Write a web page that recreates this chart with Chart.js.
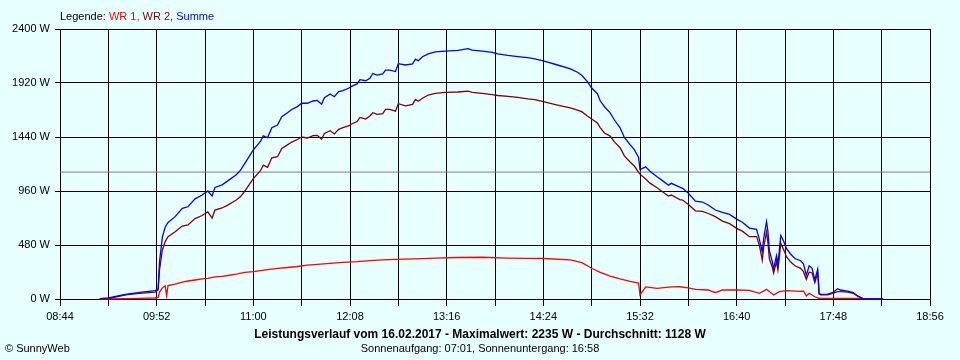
<!DOCTYPE html>
<html>
<head>
<meta charset="utf-8">
<script src="https://cdn.jsdelivr.net/npm/chart.js@4"></script>
<style>
  html, body { margin: 0; padding: 0; background: #E8FFFF; }
  #wrap { position: relative; width: 960px; height: 360px; background: #E8FFFF; overflow: hidden;
          font-family: 'Liberation Sans', Arial, sans-serif; font-size: 11px; color: #000; }
  canvas { position: absolute; left: 0; top: 0; }
  .txt { position: absolute; white-space: nowrap; line-height: 13px; }
  #legend { left: 60px; top: 10px; }
  #title { left: 0; width: 960px; text-align: center; top: 328px; font-weight: bold; font-size: 12px; }
  #subtitle { left: 0; width: 960px; text-align: center; top: 342px; }
  #copy { left: 5px; top: 342px; }
</style>
</head>
<body>
<div id="wrap">
  <canvas id="c" width="960" height="360"></canvas>
  <div class="txt" id="legend">Legende: <span style="color:#FF0000">WR 1,</span> <span style="color:#800000">WR 2,</span> <span style="color:#0000FF">Summe</span></div>
  <div class="txt" id="title">Leistungsverlauf vom 16.02.2017 - Maximalwert: 2235 W - Durchschnitt: 1128 W</div>
  <div class="txt" id="subtitle">Sonnenaufgang: 07:01, Sonnenuntergang: 16:58</div>
  <div class="txt" id="copy">© SunnyWeb</div>
</div>
<script>
// ---- data ----
const timesSum = ["09:12","09:18","09:30","09:40","09:51","09:53","09:54","09:56","09:58","10:00","10:05","10:10","10:14","10:19","10:24","10:28","10:31","10:33","10:38","10:42","10:48","10:51","10:54","11:00","11:05","11:07","11:10","11:13","11:17","11:20","11:24","11:27","11:31","11:34","11:38","11:42","11:45","11:48","11:50","11:54","11:57","12:00","12:03","12:07","12:09","12:13","12:15","12:19","12:22","12:24","12:27","12:31","12:33","12:36","12:40","12:42","12:47","12:52","12:54","12:56","12:59","13:03","13:08","13:15","13:24","13:31","13:34","13:41","13:48","13:52","13:59","14:06","14:13","14:18","14:24","14:34","14:43","14:48","14:51","14:55","14:58","15:02","15:04","15:07","15:11","15:14","15:18","15:21","15:25","15:28","15:31","15:32","15:36","15:39","15:44","15:48","15:52","15:54","16:00","16:02","16:06","16:11","16:16","16:20","16:25","16:30","16:35","16:40","16:44","16:49","16:54","16:56","16:58","16:59","17:01","17:02","17:03","17:05","17:06","17:08","17:09","17:10","17:11","17:13","17:15","17:18","17:21","17:25","17:27","17:29","17:31","17:33","17:35","17:37","17:38","17:39","17:44","17:48","17:51","17:53","17:58","18:02","18:05","18:09","18:14","18:23"];
const summe = [4,9,40,58,74,89,330,550,640,680,732,805,820,890,924,960,915,992,1015,1050,1105,1145,1205,1325,1400,1450,1435,1522,1547,1620,1655,1685,1710,1740,1740,1760,1765,1732,1790,1822,1798,1843,1852,1873,1890,1912,1950,1940,1962,2005,1990,2000,2035,2035,2022,2092,2080,2090,2132,2118,2154,2178,2196,2204,2210,2225,2213,2204,2193,2178,2165,2155,2145,2134,2116,2080,2046,2016,1988,1932,1875,1825,1762,1709,1655,1591,1522,1436,1372,1328,1258,1150,1175,1136,1087,1050,1012,1028,994,984,940,870,862,836,791,770,752,710,682,630,620,528,420,540,687,600,430,335,270,385,305,430,565,515,450,398,360,340,312,210,295,275,170,265,52,42,44,60,92,80,71,56,27,0,0,0];
const wr2 = [3,4,36,50,62,80,258,436,510,554,598,649,658,715,742,775,720,791,809,835,880,910,960,1070,1140,1190,1170,1255,1265,1338,1370,1395,1418,1440,1431,1452,1455,1420,1472,1496,1467,1508,1524,1538,1556,1578,1614,1600,1627,1656,1642,1648,1686,1686,1670,1736,1716,1730,1774,1758,1784,1813,1828,1836,1840,1848,1837,1827,1816,1809,1801,1792,1778,1772,1754,1724,1699,1678,1665,1627,1600,1565,1524,1476,1448,1396,1345,1272,1218,1182,1125,1110,1066,1030,989,952,915,924,884,880,840,784,778,760,732,692,670,628,603,554,555,477,345,460,596,500,360,285,232,333,258,366,495,440,376,328,295,273,243,175,240,232,145,235,44,36,36,53,66,65,62,51,27,4,0,0];
const timesWR1 = ["09:12","09:18","09:30","09:40","09:51","09:53","09:54","09:56","09:58","09:59","10:00","10:05","10:10","10:14","10:19","10:24","10:28","10:33","10:38","10:42","10:48","10:54","11:00","11:05","11:10","11:17","11:24","11:31","11:38","11:45","11:54","12:03","12:13","12:22","12:31","12:40","12:54","13:08","13:24","13:41","13:59","14:13","14:24","14:43","14:51","14:58","15:04","15:11","15:18","15:25","15:31","15:32","15:36","15:44","15:54","16:00","16:06","16:11","16:20","16:25","16:30","16:40","16:49","16:56","17:01","17:06","17:10","17:15","17:25","17:27","17:29","17:31","17:35","17:38","17:44","18:05","18:09","18:14"];
const wr1 = [0,0,4,6,9,13,62,98,116,30,120,133,151,160,169,178,184,196,202,209,222,237,244,253,262,273,280,289,302,308,316,326,333,342,347,353,357,364,369,371,364,362,360,347,323,273,236,204,178,156,142,36,107,95,107,109,98,86,80,56,80,80,76,51,86,36,65,74,67,71,27,51,20,6,6,6,0,0];
const average = 1128;
const xStart = "08:44", xEnd = "18:56";
const yTicks = [0, 480, 960, 1440, 1920, 2400];
const xStepMin = 34;   // gridline every 34 minutes, label every 68

// ---- helpers ----
const toMin = s => { const [h, m] = s.split(':').map(Number); return h * 60 + m; };
const toStr = v => String(Math.floor(v / 60)).padStart(2, '0') + ':' + String(Math.round(v % 60)).padStart(2, '0');
const pts = (ts, vs) => ts.map((t, i) => ({ x: toMin(t), y: vs[i] }));
const xMin = toMin(xStart), xMax = toMin(xEnd);

const lineDs = (label, ts, vs, color) => ({
  label, data: pts(ts, vs), borderColor: color, backgroundColor: color,
  borderWidth: 1.3, pointRadius: 0, tension: 0, fill: false, clip: 4
});

new Chart(document.getElementById('c').getContext('2d'), {
  type: 'line',
  data: {
    datasets: [
      lineDs('Summe', timesSum, summe, '#0000FF'),
      lineDs('WR 2', timesSum, wr2, '#800000'),
      lineDs('WR 1', timesWR1, wr1, '#FF0000'),
      { label: 'Durchschnitt', data: [{ x: xMin, y: average }, { x: xMax, y: average }],
        borderColor: '#808080', borderWidth: 1, pointRadius: 0, fill: false }
    ]
  },
  options: {
    responsive: false, animation: false, devicePixelRatio: 1,
    layout: { padding: { top: 29, right: 30, left: 0, bottom: 0 } },
    font: { family: "'Liberation Sans', Arial, sans-serif", size: 11 },
    plugins: { legend: { display: false }, tooltip: { enabled: false }, title: { display: false } },
    scales: {
      x: {
        type: 'linear', min: xMin, max: xMax,
        afterFit: s => { s.height = 61; },
        afterBuildTicks: s => {
          const t = [];
          for (let v = xMin; v <= xMax; v += xStepMin) t.push({ value: v });
          s.ticks = t;
        },
        ticks: {
          autoSkip: false, maxRotation: 0, minRotation: 0, padding: 4, color: '#000',
          font: { family: "'Liberation Sans', Arial, sans-serif", size: 11 },
          callback: v => ((v - xMin) % (2 * xStepMin) === 0) ? toStr(v) : ''
        },
        grid: { color: '#000', lineWidth: 1, drawTicks: true, tickLength: 7, tickColor: '#000' },
        border: { color: '#000', width: 1 }
      },
      y: {
        min: 0, max: 2400,
        afterFit: s => { s.width = 60; },
        afterBuildTicks: s => { s.ticks = yTicks.map(v => ({ value: v })); },
        ticks: {
          padding: 5, color: '#000',
          font: { family: "'Liberation Sans', Arial, sans-serif", size: 11 },
          callback: v => v + ' W'
        },
        grid: { color: '#000', lineWidth: 1, drawTicks: true, tickLength: 5, tickColor: '#000' },
        border: { color: '#000', width: 1 }
      }
    }
  }
});
</script>
</body>
</html>
